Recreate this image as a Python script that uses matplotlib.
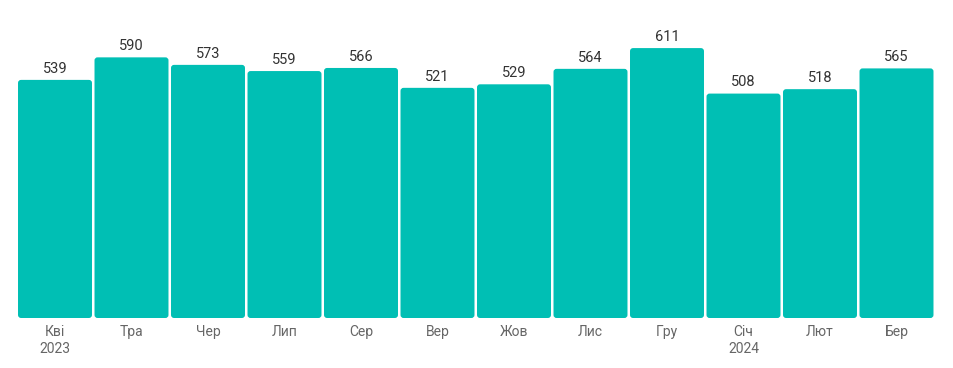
from matplotlib import pyplot as plt
from matplotlib.patches import FancyBboxPatch
import matplotlib

matplotlib.rc('font', family='Roboto')

months = ["Кві\n2023", "Тра", "Чер", "Лип", "Сер", "Вер", "Жов", "Лис", "Гру", "Січ\n2024", "Лют", "Бер"]
values = [539, 590, 573, 559, 566, 521, 529, 564, 611, 508, 518, 565]

color = '#00BFB4'
W, H = 954, 368

fig = plt.figure(figsize=(W / 100, H / 100), dpi=100)
# axes in pixels: left 16.75, bottom at y=318, height 311
ax = fig.add_axes([16.75 / W, (H - 318) / H, 918 / W, 311 / H])

x = list(range(len(values)))
bars = ax.bar(x, values, width=0.967, color='none')

# rounded corners
for b in bars:
    p = FancyBboxPatch((b.get_x(), 0), b.get_width(), b.get_height(),
                       boxstyle="round,pad=0,rounding_size=0.04",
                       mutation_aspect=170, facecolor=color, edgecolor='none')
    ax.add_patch(p)

for xi, v in zip(x, values):
    ax.annotate(str(v), (xi, v), xytext=(0, 3), textcoords='offset points',
                ha='center', va='bottom', fontsize=10.5, color='#333333')

ax.set_xlim(-0.5, 11.5)
ax.set_ylim(0, 704)
ax.set_xticks(x)
ax.set_xticklabels(months, fontsize=10, color='#666666', linespacing=1.3)
ax.tick_params(axis='x', length=0, pad=5)
ax.set_yticks([])
for s in ax.spines.values():
    s.set_visible(False)

plt.savefig('out.png', dpi=100)
